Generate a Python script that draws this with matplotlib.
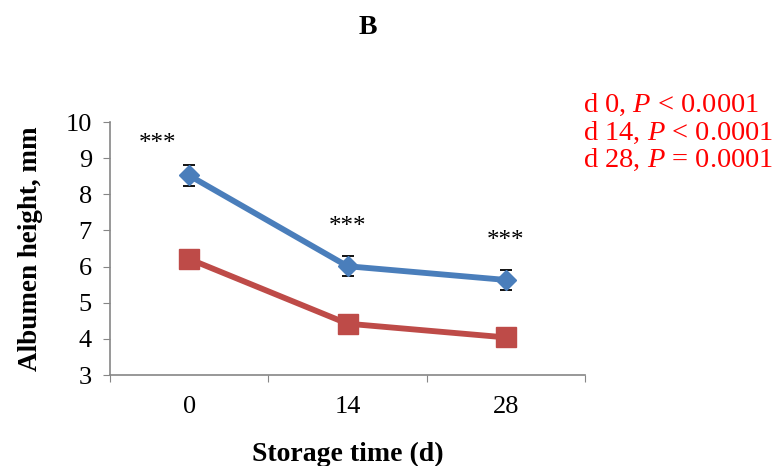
import matplotlib.pyplot as plt
import numpy as np

plt.rcParams["font.family"] = ["Liberation Serif", "DejaVu Serif"]
plt.rcParams["mathtext.fontset"] = "custom"
plt.rcParams["mathtext.rm"] = "Liberation Serif"
plt.rcParams["mathtext.it"] = "Liberation Serif:italic"

days = ["0", "14", "28"]
blue_vals = [8.52, 6.01, 5.63]
blue_err = [0.28, 0.28, 0.27]
red_vals = [6.21, 4.42, 4.04]
red_err = [0.24, 0.22, 0.2]
star_y = [9.4, 7.1, 6.7]
star_dx = [-0.2, 0.0, 0.0]
p_lines = ["d 0, $P$ < 0.0001", "d 14, $P$ < 0.0001", "d 28, $P$ = 0.0001"]

fig = plt.figure(figsize=(7.8, 4.66), dpi=100)
ax = fig.add_axes([110 / 780, 1 - 375 / 466, 475 / 780, 253 / 466])

x = np.arange(len(days)) + 0.5
ax.errorbar(x, blue_vals, yerr=blue_err, color="#4A7EBB", lw=4.2,
            marker="D", ms=10.5, mec="#4A7EBB", ecolor="black", elinewidth=1.3,
            capsize=4.5, capthick=1.3, zorder=3)
ax.errorbar(x, red_vals, yerr=red_err, color="#BE4B48", lw=4.2,
            marker="s", ms=14, mec="#BE4B48", ecolor="black", elinewidth=1.3,
            capsize=4.5, capthick=1.3, zorder=3)

for xi, dx, sy in zip(x, star_dx, star_y):
    ax.text(xi + dx, sy, "***", ha="center", va="center", fontsize=18)

ax.set_xlim(0, 3)
ax.set_ylim(3, 10)
ax.set_yticks(range(3, 11))
ax.set_xticks([0, 1, 2, 3])
ax.set_xticklabels([])
ax.set_xticks(x, minor=True)
ax.set_xticklabels(days, minor=True)
ax.tick_params(axis="x", which="minor", length=0, labelsize=19, pad=15)
ax.tick_params(axis="x", which="major", length=5, color="#868686")
ax.tick_params(axis="y", length=5, color="#868686", labelsize=19, pad=8)
for s in ["top", "right"]:
    ax.spines[s].set_visible(False)
for s in ["left", "bottom"]:
    ax.spines[s].set_color("#868686")
    ax.spines[s].set_linewidth(1.2)

ax.set_ylabel("Albumen height, mm", fontsize=19.5, fontweight="bold", labelpad=16)
ax.set_xlabel("Storage time (d)", fontsize=20, fontweight="bold", labelpad=17)

fig.text(368 / 780, 1 - 28 / 466, "B", ha="center", va="center",
         fontsize=20, fontweight="bold")
for i, t in enumerate(p_lines):
    fig.text(583 / 780, 1 - (105 + 27.5 * i) / 466, t, ha="left", va="center",
             fontsize=20.5, color="red")

fig.savefig("out.png", dpi=100)
